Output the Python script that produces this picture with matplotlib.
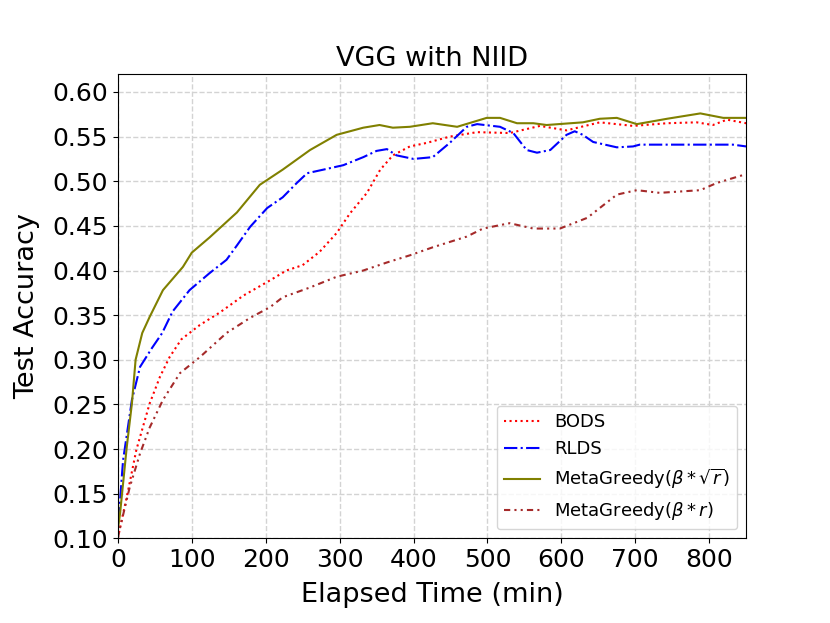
import matplotlib.pyplot as plt

# Data (elapsed time in min, test accuracy)
bods_t = [0, 3, 12, 25, 43, 57, 70, 86, 111, 138, 170, 206, 228, 250, 273, 296, 314,
          337, 355, 372, 395, 418, 449, 486, 530, 571, 607, 652, 697, 743, 783, 805, 824, 850]
bods_acc = [0.10, 0.112, 0.146, 0.199, 0.251, 0.281, 0.303, 0.323, 0.339, 0.353, 0.372,
            0.389, 0.400, 0.406, 0.421, 0.442, 0.464, 0.487, 0.513, 0.529, 0.539, 0.543,
            0.550, 0.555, 0.554, 0.562, 0.557, 0.566, 0.562, 0.565, 0.566, 0.563, 0.569, 0.565]

rlds_t = [0, 3, 7, 19, 30, 46, 60, 74, 97, 124, 147, 161, 179, 202, 223, 242, 256, 278,
          305, 332, 350, 364, 377, 400, 426, 449, 472, 486, 517, 535, 553, 567, 585, 607,
          618, 629, 643, 675, 697, 706, 832, 850]
rlds_acc = [0.12, 0.143, 0.187, 0.255, 0.292, 0.313, 0.33, 0.354, 0.378, 0.397, 0.412,
            0.428, 0.449, 0.470, 0.482, 0.498, 0.509, 0.513, 0.518, 0.527, 0.534, 0.536,
            0.529, 0.525, 0.527, 0.543, 0.561, 0.564, 0.561, 0.554, 0.535, 0.532, 0.535,
            0.552, 0.556, 0.552, 0.544, 0.538, 0.539, 0.541, 0.541, 0.539]

mg_sqrt_t = [0, 3, 12, 19, 24, 33, 43, 61, 88, 100, 124, 161, 192, 223, 260, 296, 332,
             354, 372, 395, 426, 459, 499, 517, 540, 562, 580, 629, 652, 675, 702, 743,
             788, 819, 850]
mg_sqrt_acc = [0.11, 0.128, 0.202, 0.251, 0.300, 0.330, 0.348, 0.378, 0.404, 0.420, 0.437,
               0.465, 0.496, 0.513, 0.535, 0.552, 0.560, 0.563, 0.560, 0.561, 0.565, 0.561,
               0.571, 0.571, 0.565, 0.565, 0.563, 0.566, 0.570, 0.571, 0.564, 0.570, 0.576,
               0.571, 0.571]

mg_lin_t = [0, 3, 16, 30, 43, 61, 84, 111, 147, 179, 206, 223, 260, 296, 332, 364, 395,
            426, 472, 494, 530, 562, 598, 635, 675, 702, 733, 788, 810, 846]
mg_lin_acc = [0.10, 0.112, 0.157, 0.195, 0.224, 0.255, 0.285, 0.303, 0.330, 0.347, 0.359,
              0.370, 0.381, 0.393, 0.400, 0.409, 0.417, 0.426, 0.438, 0.447, 0.453, 0.447,
              0.447, 0.459, 0.485, 0.490, 0.487, 0.490, 0.498, 0.507]

fig = plt.figure(figsize=(8.3, 6.23), dpi=100)
ax = fig.add_axes([0.142, 0.136, 0.757, 0.745])

ax.plot(bods_t, bods_acc, color='red', linestyle=':', linewidth=1.5, label='BODS')
ax.plot(rlds_t, rlds_acc, color='blue', linestyle='-.', linewidth=1.5, label='RLDS')
ax.plot(mg_sqrt_t, mg_sqrt_acc, color='olive', linestyle='-', linewidth=1.5,
        label=r'MetaGreedy($\beta*\sqrt{r}$)')
ax.plot(mg_lin_t, mg_lin_acc, color='brown', linestyle=(0, (3, 2, 1, 2, 1, 2)),
        linewidth=1.5, label=r'MetaGreedy($\beta*r$)')

ax.set_xlim(0, 850)
ax.set_ylim(0.10, 0.62)
ax.set_xticks([0, 100, 200, 300, 400, 500, 600, 700, 800])
ax.set_yticks([0.10, 0.15, 0.20, 0.25, 0.30, 0.35, 0.40, 0.45, 0.50, 0.55, 0.60])
ax.tick_params(labelsize=18)
ax.grid(True, linestyle='--', color='lightgray', linewidth=1)

ax.set_xlabel('Elapsed Time (min)', fontsize=19.5, labelpad=7)
ax.set_ylabel('Test Accuracy', fontsize=19.5, labelpad=9)
ax.set_title('VGG with NIID', fontsize=19.5)
ax.legend(loc='lower right', fontsize=13)

plt.savefig('out.png')
